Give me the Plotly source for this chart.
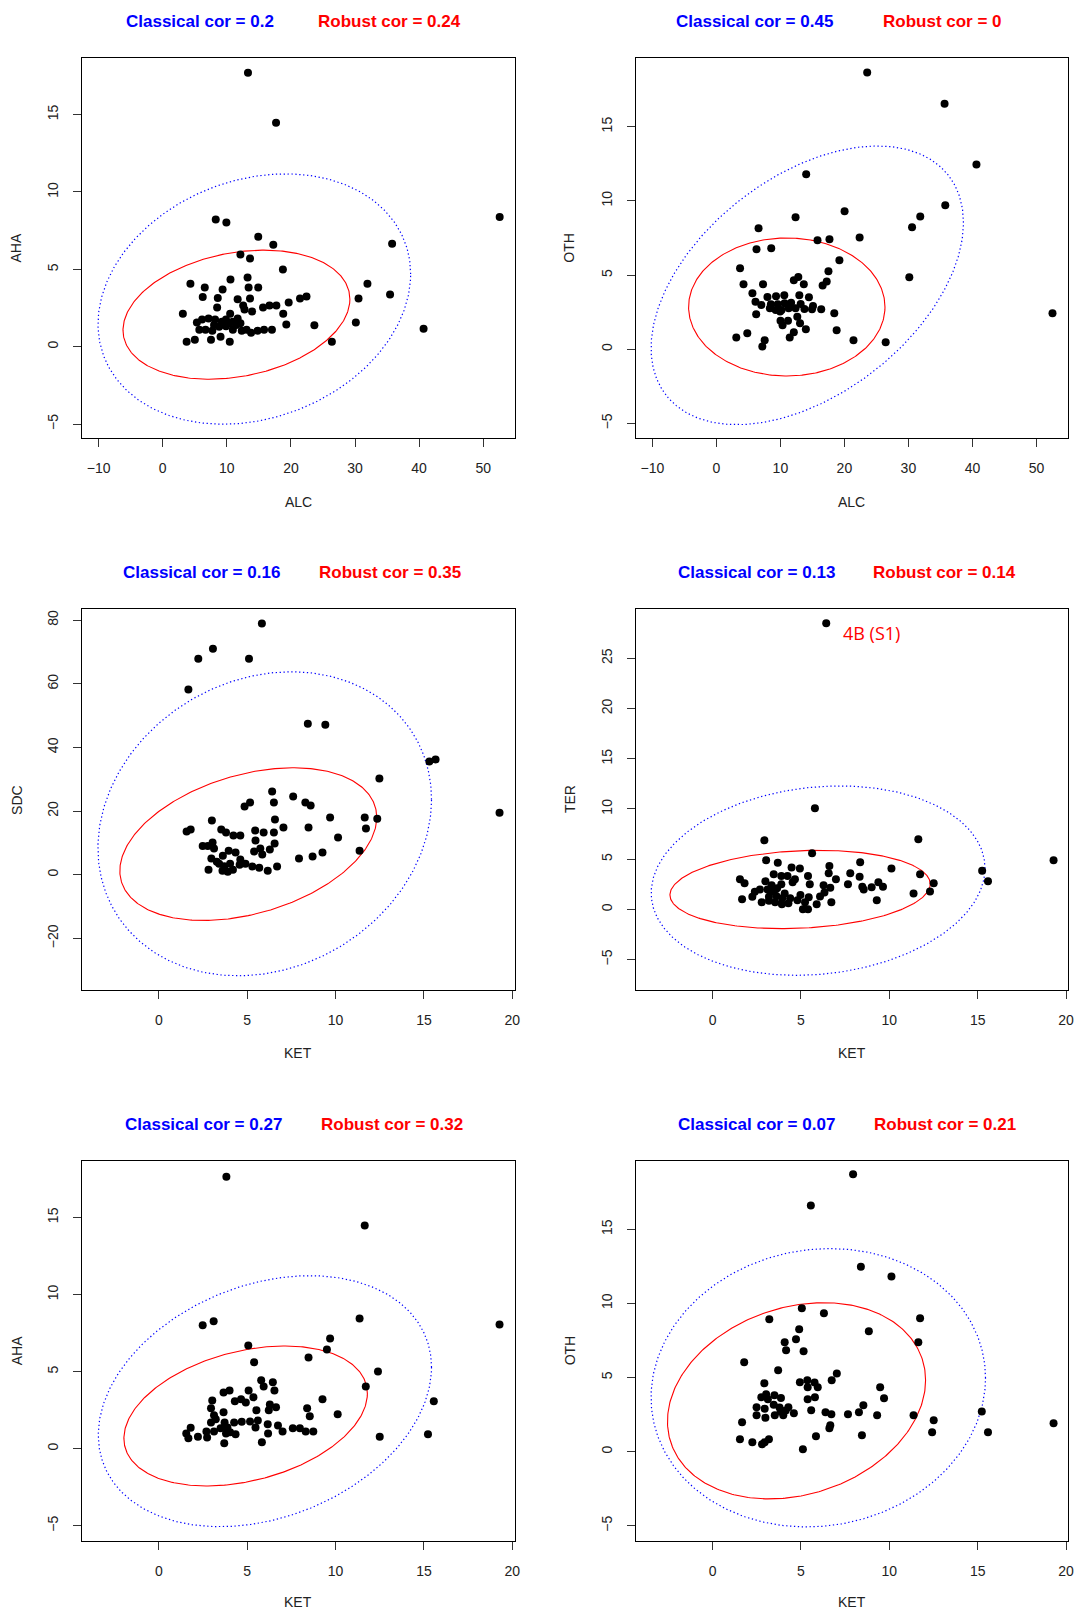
import numpy as np
import plotly.graph_objects as go

# ---------------- data ----------------
# Panel 1: ALC vs AHA
p1_alc = [13.30, 17.68, 52.57, 8.27, 9.93, 14.90, 17.25, 35.79, 12.12, 13.62, 18.75, 4.32, 31.94, 6.56,
          10.57, 13.24, 13.40, 14.90, 9.34, 6.24, 8.59, 11.69, 13.62, 30.55, 35.47, 21.42, 22.43, 19.65,
          17.73, 16.66, 15.65, 12.55, 12.76, 13.94, 8.49, 3.14, 10.52, 18.80, 19.28, 23.66, 30.13, 40.70,
          26.39, 3.73, 5.01, 7.53, 9.02, 10.46, 5.33, 6.14, 7.15, 8.17, 5.71, 6.67, 7.74, 8.81, 9.23, 9.87,
          10.41, 10.94, 11.48, 11.69, 12.12, 10.94, 12.33, 13.08, 13.78, 14.79, 15.81, 17.04, 9.87, 8.01]
p1_aha = [17.71, 14.48, 8.39, 8.22, 8.03, 7.10, 6.59, 6.65, 5.96, 5.70, 4.99, 4.07, 4.07, 3.83,
          4.35, 4.48, 3.83, 3.83, 3.70, 3.21, 3.14, 3.06, 3.12, 3.12, 3.38, 3.12, 3.25, 2.86,
          2.67, 2.67, 2.54, 2.67, 2.41, 2.28, 2.54, 2.13, 2.13, 2.13, 1.44, 1.38, 1.57, 1.16,
          0.32, 0.32, 0.45, 0.45, 0.65, 0.32, 1.57, 1.76, 1.83, 1.76, 1.10, 1.10, 1.03, 1.29, 1.61, 1.76,
          1.51, 1.61, 1.40, 1.83, 1.51, 1.10, 1.03, 1.10, 0.90, 1.03, 1.10, 1.10, 1.33, 1.40]

# Panel 2: ALC vs OTH
p2_alc = [23.56, 35.65, 40.63, 14.03, 35.76, 31.85, 30.57, 20.03, 12.37, 6.59, 22.38, 17.67, 15.80, 8.57,
          6.27, 19.22, 3.70, 17.51, 30.14, 12.80, 12.10, 4.24, 7.29, 13.66, 17.24, 16.60, 5.63, 7.98,
          9.32, 10.61, 12.96, 14.46, 6.11, 7.02, 8.52, 9.59, 10.66, 11.68, 13.17, 15.10, 8.36, 9.27,
          10.18, 11.30, 12.37, 13.76, 14.94, 16.38, 18.42, 6.22, 9.96, 12.64, 10.02, 11.19, 10.34, 13.07,
          13.98, 18.79, 12.10, 11.46, 4.83, 3.11, 7.55, 7.18, 21.42, 26.45, 52.51]
p2_oth = [18.66, 16.55, 12.46, 11.79, 9.70, 8.94, 8.22, 9.30, 8.89, 8.15, 7.54, 7.41, 7.34, 6.80,
          6.74, 6.00, 5.46, 5.25, 4.85, 4.87, 4.65, 4.38, 4.38, 4.38, 4.56, 4.29, 3.77, 3.53,
          3.57, 3.64, 3.64, 3.50, 3.21, 2.99, 3.03, 3.03, 3.10, 3.14, 3.05, 2.92, 2.76, 2.65,
          2.65, 2.76, 2.76, 2.72, 2.69, 2.69, 2.43, 2.36, 2.54, 2.20, 1.93, 1.93, 1.62, 1.75,
          1.35, 1.28, 1.15, 0.79, 1.08, 0.79, 0.61, 0.18, 0.61, 0.47, 2.43]

# Panel 3: KET vs SDC
p3_ket = [5.83, 3.06, 2.23, 5.10, 1.67, 8.43, 9.42, 15.31, 15.66, 12.48, 19.28, 6.41, 7.60, 6.51,
          8.29, 8.59, 5.16, 4.85, 9.69, 11.65, 12.36, 3.00, 6.57, 11.72, 7.05, 8.47, 1.57, 1.80,
          3.53, 3.80, 4.22, 4.61, 5.45, 5.93, 6.51, 10.14, 5.47, 6.55, 3.04, 2.48, 2.77, 3.12,
          5.74, 6.28, 3.95, 4.34, 5.39, 5.85, 9.26, 11.36, 2.97, 3.62, 3.28, 4.61, 7.93, 8.70,
          3.41, 4.03, 4.57, 4.90, 5.29, 5.68, 6.69, 2.81, 3.60, 3.90, 4.19, 6.16, 3.70]
p3_sdc = [78.95, 70.99, 67.85, 67.85, 58.22, 47.43, 47.12, 35.60, 36.23, 30.26, 19.48, 26.18, 24.61, 22.72,
          22.72, 21.78, 22.72, 21.47, 18.01, 18.01, 17.59, 17.07, 17.38, 14.55, 14.87, 14.87, 13.61, 14.24,
          14.24, 13.30, 12.36, 12.36, 13.93, 13.30, 13.30, 11.73, 10.79, 9.84, 10.16, 9.01, 9.01, 8.27,
          8.27, 7.96, 7.54, 7.02, 7.33, 6.39, 7.02, 7.54, 5.13, 5.97, 4.08, 4.82, 5.13, 5.76,
          3.46, 3.46, 3.14, 3.46, 2.62, 2.20, 2.62, 1.57, 1.26, 0.94, 1.57, 1.26, 2.72]

# Panel 4: KET vs TER
p4_ket = [6.43, 5.79, 2.93, 11.64, 5.63, 19.29, 3.03, 3.69, 4.47, 4.94, 6.61, 8.35, 10.12, 15.25,
          15.58, 11.74, 6.57, 7.79, 8.32, 3.46, 3.89, 4.24, 5.40, 6.98, 1.55, 1.81, 2.99, 4.66,
          4.53, 5.50, 6.28, 6.66, 7.66, 8.47, 8.55, 9.00, 9.38, 9.64, 12.51, 12.30, 11.37, 3.34,
          3.89, 2.68, 2.39, 2.25, 3.11, 3.46, 3.65, 4.08, 3.19, 3.61, 3.94, 4.39, 4.97, 5.44,
          6.33, 6.08, 1.67, 2.78, 3.19, 3.54, 3.92, 4.29, 4.80, 5.23, 6.72, 5.89, 5.11, 5.40, 9.29]
p4_ter = [28.49, 10.06, 6.87, 6.97, 5.58, 4.88, 4.88, 4.65, 4.18, 4.08, 4.32, 4.68, 4.08, 3.85,
          2.79, 3.49, 3.59, 3.59, 3.25, 3.49, 3.32, 3.32, 3.32, 2.99, 2.99, 2.59, 2.79, 2.99,
          2.69, 2.49, 2.39, 2.16, 2.49, 2.26, 1.99, 2.19, 2.69, 2.26, 2.59, 1.79, 1.59, 2.39,
          2.49, 1.99, 1.76, 1.26, 1.99, 1.76, 2.09, 1.59, 1.26, 1.33, 1.10, 1.10, 1.43, 1.20,
          1.69, 1.29, 1.00, 0.70, 0.86, 0.70, 0.50, 0.60, 0.90, 0.70, 0.70, 0.50, 0.00, 0.00, 0.90]

# Panel 5: KET vs AHA
p5_ket = [3.82, 11.65, 19.28, 2.48, 3.10, 11.36, 9.69, 9.51, 5.06, 8.47, 5.39, 12.40, 11.71, 15.56,
          15.23, 12.50, 5.79, 6.45, 5.93, 6.54, 3.66, 4.00, 5.08, 5.35, 3.02, 4.30, 4.65, 4.92,
          6.28, 6.63, 6.22, 5.52, 8.39, 9.26, 8.54, 10.12, 2.95, 3.66, 3.12, 3.22, 2.95, 3.72,
          4.26, 4.69, 5.16, 5.60, 6.16, 6.74, 7.58, 7.98, 8.31, 8.74, 7.00, 6.18, 5.47, 3.49,
          3.12, 3.88, 4.03, 4.34, 2.69, 2.21, 2.73, 1.55, 1.80, 1.67, 3.70, 5.83, 3.80]
p5_aha = [17.64, 14.48, 8.06, 8.00, 8.26, 8.45, 7.15, 6.44, 6.70, 5.92, 5.60, 5.01, 4.04, 3.07,
          0.93, 0.78, 4.43, 4.30, 4.04, 3.78, 3.65, 3.78, 3.78, 3.33, 3.13, 3.07, 3.20, 3.00,
          2.87, 2.68, 2.49, 2.49, 2.62, 3.20, 2.10, 2.23, 2.62, 2.36, 2.16, 1.90, 1.69, 1.69,
          1.69, 1.75, 1.77, 1.82, 1.58, 1.51, 1.32, 1.32, 1.12, 1.12, 1.12, 0.99, 1.38, 1.32,
          1.12, 1.38, 1.06, 0.93, 1.12, 0.78, 0.73, 0.99, 1.36, 0.67, 0.35, 0.41, 0.99]

# Panel 6: KET vs OTH
p6_ket = [7.95, 5.56, 8.39, 10.12, 5.05, 6.30, 3.21, 11.74, 4.90, 8.84, 4.72, 4.08, 11.64, 4.16,
          5.15, 1.79, 3.71, 7.03, 6.74, 4.94, 5.36, 5.77, 5.38, 5.95, 9.48, 2.93, 9.70, 5.38,
          5.79, 3.50, 3.87, 2.76, 3.03, 3.13, 3.46, 3.79, 4.29, 2.49, 2.95, 3.85, 4.14, 2.49,
          3.52, 4.00, 4.60, 2.99, 5.58, 8.53, 6.39, 6.72, 7.66, 8.28, 9.31, 11.37, 15.23, 12.51,
          19.29, 1.67, 6.66, 6.61, 12.42, 15.58, 8.45, 5.85, 1.55, 2.25, 2.80, 2.95, 3.19, 5.11]
p6_oth = [18.71, 16.60, 12.48, 11.81, 9.67, 9.33, 8.93, 9.00, 8.25, 8.12, 7.58, 7.38, 7.38, 6.84,
          6.77, 6.03, 5.49, 5.28, 4.81, 4.68, 4.81, 4.66, 4.34, 4.34, 4.34, 4.61, 3.60, 3.53,
          3.67, 3.80, 3.62, 3.67, 3.87, 3.53, 3.17, 2.97, 2.99, 2.99, 2.90, 2.70, 2.77, 2.45,
          2.45, 2.45, 2.59, 2.29, 2.79, 3.13, 2.65, 2.52, 2.52, 2.65, 2.45, 2.45, 2.70, 2.11,
          1.91, 1.98, 1.78, 1.57, 1.30, 1.30, 1.10, 1.03, 0.83, 0.63, 0.49, 0.63, 0.83, 0.16]

x_names = ["ALC", "ALC", "KET", "KET", "KET", "KET"]
y_names = ["AHA", "OTH", "SDC", "TER", "AHA", "OTH"]
classical_cor = [0.2, 0.45, 0.16, 0.13, 0.27, 0.07]
robust_cor = [0.24, 0, 0.35, 0.14, 0.32, 0.21]

# ellipse parameters: centre x, centre y, half-width, half-height (tolerance ellipses)
rob_cx = [11.5, 11.0, 5.06, 4.95, 4.91, 4.75]
rob_cy = [2.07, 2.85, 9.63, 1.98, 2.12, 3.43]
rob_w = [17.7, 15.34, 7.27, 7.36, 6.89, 7.30]
rob_h = [4.17, 4.65, 23.98, 3.90, 4.54, 6.62]
cls_cx = [14.29, 14.2, 5.99, 5.97, 6.0, 5.98]
cls_cy = [3.08, 4.31, 16.02, 2.86, 3.08, 4.31]
cls_w = [24.39, 24.4, 9.44, 9.44, 9.43, 9.46]
cls_h = [8.09, 9.39, 47.75, 9.43, 8.14, 9.39]

x_ticks = [list(range(-10, 51, 10)), list(range(-10, 51, 10)), [0, 5, 10, 15, 20], [0, 5, 10, 15, 20],
           [0, 5, 10, 15, 20], [0, 5, 10, 15, 20]]
y_ticks = [[-5, 0, 5, 10, 15], [-5, 0, 5, 10, 15], [-20, 0, 20, 40, 60, 80], [-5, 0, 5, 10, 15, 20, 25],
           [-5, 0, 5, 10, 15], [-5, 0, 5, 10, 15]]

annot_text = "4B (S1)"
annot_x, annot_y = 9.0, 27.5

xs = [p1_alc, p2_alc, p3_ket, p4_ket, p5_ket, p6_ket]
ys = [p1_aha, p2_oth, p3_sdc, p4_ter, p5_aha, p6_oth]

# ---------------- layout geometry ----------------
W, H = 1081, 1611
x_ranges = [[-12.62, 54.92], [-12.61, 54.97], [-4.36, 20.14], [-4.35, 20.12], [-4.36, 20.14], [-4.35, 20.12]]
y_ranges = [[-5.92, 18.66], [-6.0, 19.63], [-36.1, 83.4], [-8.0, 29.88], [-5.99, 18.68], [-6.03, 19.63]]
col_px = [(82.3, 517.6), (639.2, 1074.2)]
row_px = [(58.0, 438.3), (609.3, 989.7), (1160.7, 1541.0)]
title_y_px = [21.3, 572.3, 1124.3]
blue_x_px = [201.5, 758.7, 202.3, 760.4, 204.5, 761.1]
red_x_px = [392.0, 948.0, 392.2, 949.5, 394.3, 949.8]
xlab_y_px = [501.7, 1053.3, 1601.5]
ylab_x_px = [16.5, 572.7]


def ellipse(cx, cy, w, h, rho, n=361):
    t = np.linspace(0, 2 * np.pi, n)
    ex = cx + w * np.cos(t)
    ey = cy + h * (rho * np.cos(t) + np.sqrt(1 - rho ** 2) * np.sin(t))
    return ex, ey


fig = go.Figure()
annotations = []
FONT = "Liberation Sans, Arial, Helvetica, sans-serif"

for i in range(6):
    r, c = divmod(i, 2)
    sfx = "" if i == 0 else str(i + 1)
    xa, ya = "x" + sfx, "y" + sfx
    # classical ellipse (blue dotted)
    ex, ey = ellipse(cls_cx[i], cls_cy[i], cls_w[i], cls_h[i], classical_cor[i])
    fig.add_trace(go.Scatter(x=ex, y=ey, mode="lines", xaxis=xa, yaxis=ya,
                             line=dict(color="#0000FF", width=1.2, dash="1.3px,2.6px"),
                             hoverinfo="skip", showlegend=False))
    # robust ellipse (red solid)
    ex, ey = ellipse(rob_cx[i], rob_cy[i], rob_w[i], rob_h[i], robust_cor[i])
    fig.add_trace(go.Scatter(x=ex, y=ey, mode="lines", xaxis=xa, yaxis=ya,
                             line=dict(color="#FF0000", width=1.1),
                             hoverinfo="skip", showlegend=False))
    # points
    fig.add_trace(go.Scatter(x=xs[i], y=ys[i], mode="markers", xaxis=xa, yaxis=ya,
                             marker=dict(color="black", size=8, line=dict(width=0)),
                             showlegend=False))

    x0, x1 = col_px[c]
    y0, y1 = row_px[r]
    axis_common = dict(showgrid=False, zeroline=False, showline=True, mirror=True,
                       linecolor="black", linewidth=1.2, ticks="outside", ticklen=8,
                       tickcolor="#333", tickwidth=1,
                       tickfont=dict(family=FONT, size=14, color="#222"),
                       ticklabelstandoff=9)
    fig.layout["xaxis" + sfx] = dict(domain=[x0 / W, min(x1 / W, 1.0)], anchor=ya, range=x_ranges[i],
                                     tickvals=x_ticks[i], **axis_common)
    fig.layout["yaxis" + sfx] = dict(domain=[1 - y1 / H, 1 - y0 / H], anchor=xa, range=y_ranges[i],
                                     tickvals=y_ticks[i], tickangle=-90, **axis_common)

    # titles
    annotations.append(dict(xref="paper", yref="paper", x=blue_x_px[i] / W, y=1 - title_y_px[r] / H,
                            text="<b>Classical cor = %s</b>" % classical_cor[i], showarrow=False,
                            xanchor="center", yanchor="middle",
                            font=dict(family=FONT, size=17, color="#0000FF")))
    annotations.append(dict(xref="paper", yref="paper", x=red_x_px[i] / W, y=1 - title_y_px[r] / H,
                            text="<b>Robust cor = %s</b>" % robust_cor[i], showarrow=False,
                            xanchor="center", yanchor="middle",
                            font=dict(family=FONT, size=17, color="#FF0000")))
    # axis labels
    annotations.append(dict(xref="paper", yref="paper", x=(x0 + x1) / 2 / W, y=1 - xlab_y_px[r] / H,
                            text=x_names[i], showarrow=False, xanchor="center", yanchor="middle",
                            font=dict(family=FONT, size=14, color="#222")))
    annotations.append(dict(xref="paper", yref="paper", x=ylab_x_px[c] / W, y=1 - (y0 + y1) / 2 / H,
                            text=y_names[i], showarrow=False, xanchor="center", yanchor="middle",
                            textangle=-90, font=dict(family=FONT, size=14, color="#222")))

annotations.append(dict(xref="x4", yref="y4", x=annot_x, y=annot_y, text=annot_text, showarrow=False,
                        xanchor="center", yanchor="middle",
                        font=dict(family="Open Sans, Noto Sans, sans-serif", size=18, color="#FF0000")))

fig.update_layout(width=W, height=H, margin=dict(l=0, r=0, t=0, b=0),
                  paper_bgcolor="white", plot_bgcolor="white",
                  annotations=annotations, showlegend=False)

fig.write_html("out.html", config={"displayModeBar": False},
               post_script="document.body.style.margin='0';document.body.style.overflow='hidden';")
